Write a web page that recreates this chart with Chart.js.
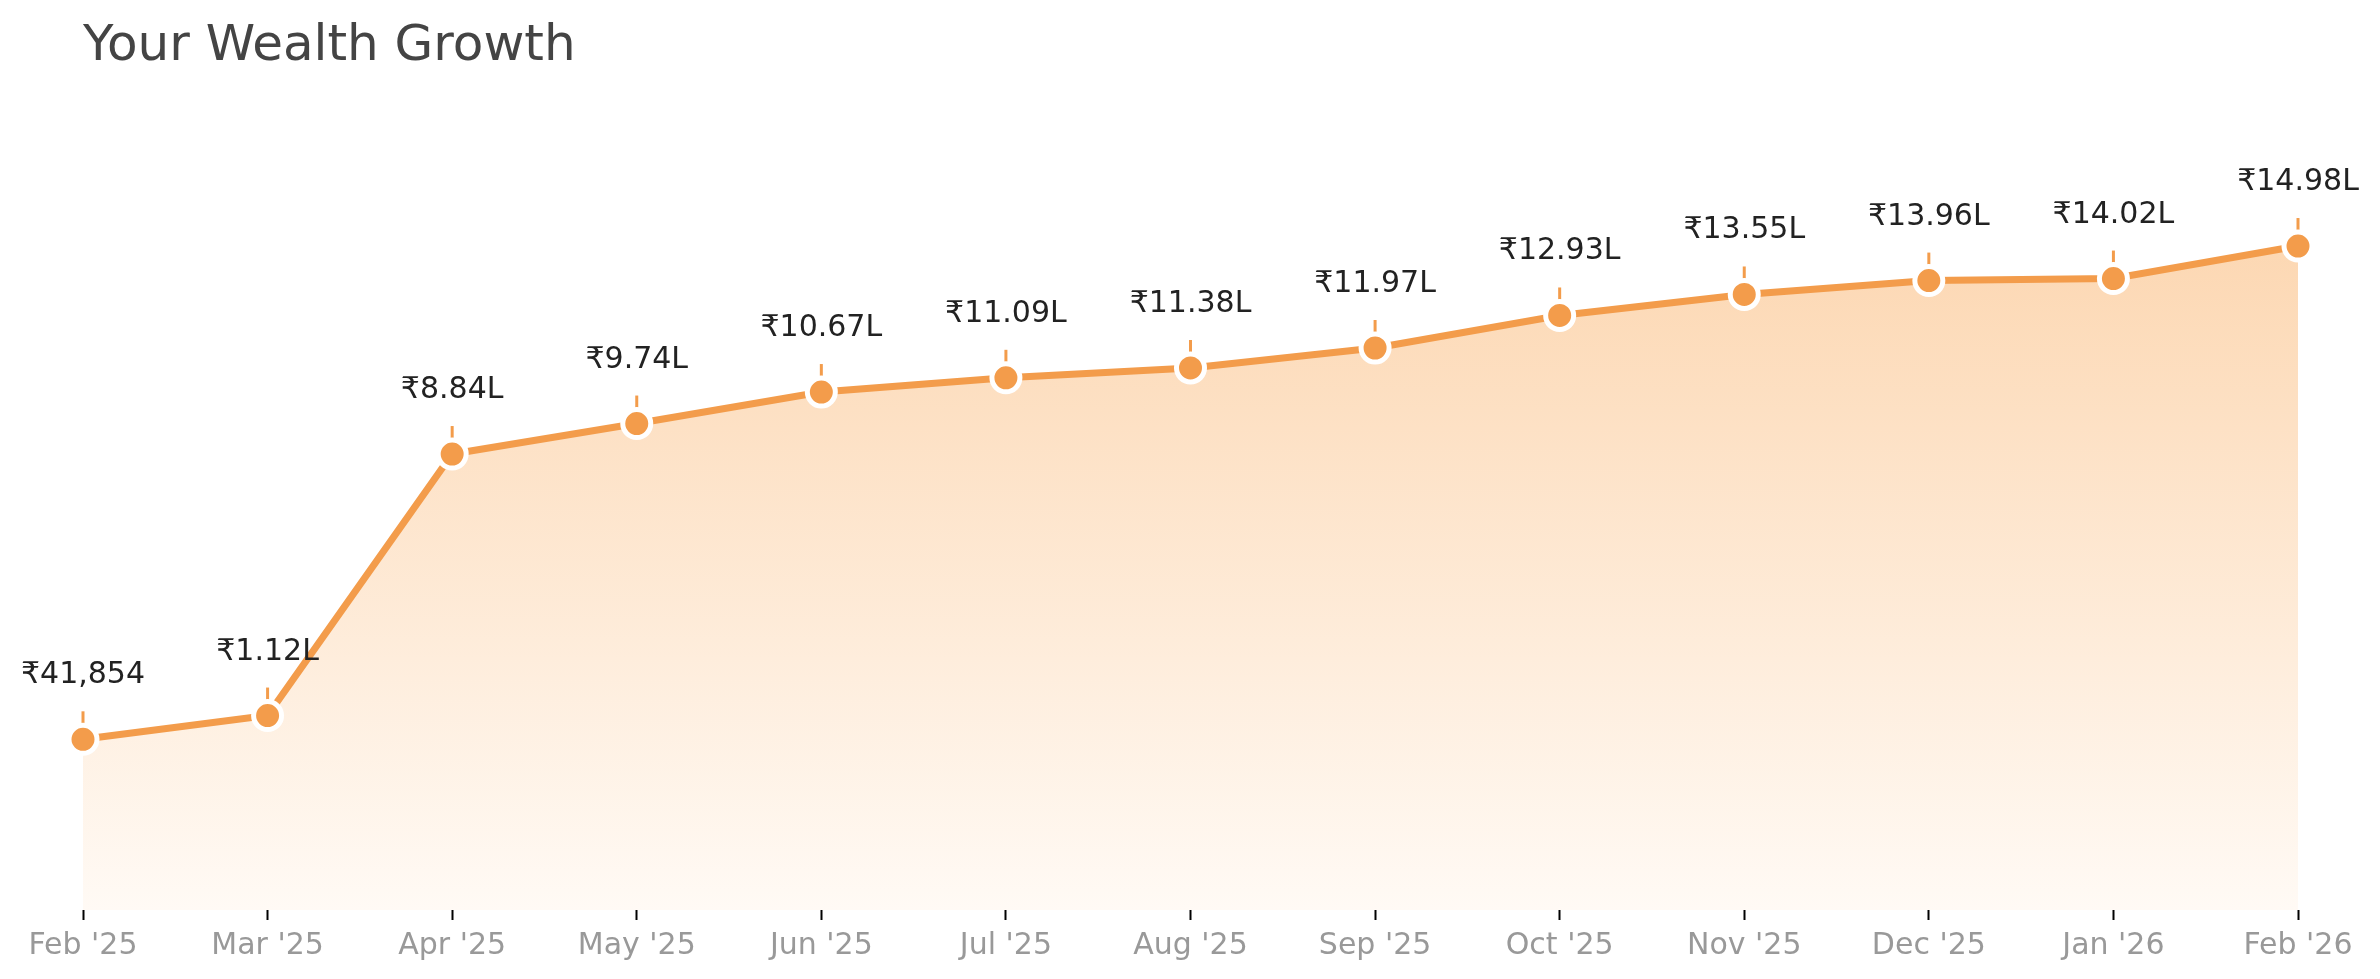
<!DOCTYPE html>
<html>
<head>
<meta charset="utf-8">
<title>Your Wealth Growth</title>
<script src="https://cdn.jsdelivr.net/npm/chart.js@4.4.1/dist/chart.umd.min.js"></script>
<style>
  html, body { margin: 0; padding: 0; background: #fff; }
  canvas { display: block; }
</style>
</head>
<body>
<canvas id="wealth" width="2380" height="979"></canvas>
<script>
const months = ["Feb '25", "Mar '25", "Apr '25", "May '25", "Jun '25", "Jul '25",
  "Aug '25", "Sep '25", "Oct '25", "Nov '25", "Dec '25", "Jan '26", "Feb '26"];
const wealth = [41854, 112000, 884000, 974000, 1067000, 1109000,
  1138000, 1197000, 1293000, 1355000, 1396000, 1402000, 1498000];

const orange = "#F39C4B";
const font = "'DejaVu Sans', sans-serif";

function rupees(v) {
  if (v < 100000) return "₹" + v.toLocaleString("en-IN");
  return "₹" + (v / 100000).toFixed(2) + "L";
}

// thin stem above each point, drawn under the line/markers
const stems = {
  id: "stems",
  beforeDatasetsDraw(chart) {
    const ctx = chart.ctx;
    const meta = chart.getDatasetMeta(0);
    ctx.save();
    ctx.strokeStyle = orange;
    ctx.lineWidth = 3;
    meta.data.forEach(pt => {
      ctx.beginPath();
      ctx.moveTo(pt.x, pt.y);
      ctx.lineTo(pt.x, pt.y - 28);
      ctx.stroke();
    });
    ctx.restore();
  }
};

const valueLabels = {
  id: "valueLabels",
  afterDatasetsDraw(chart) {
    const ctx = chart.ctx;
    const meta = chart.getDatasetMeta(0);
    ctx.save();
    ctx.font = "30px " + font;
    ctx.fillStyle = "#222";
    ctx.textAlign = "center";
    ctx.textBaseline = "alphabetic";
    meta.data.forEach((pt, i) => {
      ctx.fillText(rupees(wealth[i]), pt.x, pt.y - 56);
    });
    ctx.restore();
  }
};

const ctx = document.getElementById("wealth").getContext("2d");
new Chart(ctx, {
  type: "line",
  data: {
    labels: months,
    datasets: [{
      data: wealth,
      borderColor: orange,
      borderWidth: 7,
      tension: 0,
      fill: "start",
      backgroundColor(c) {
        const area = c.chart.chartArea;
        if (!area) return "rgba(253,218,184,1)";
        const g = c.chart.ctx.createLinearGradient(0, area.top, 0, area.bottom);
        g.addColorStop(0, "rgba(252,212,172,1)");
        g.addColorStop(1, "rgba(255,250,245,1)");
        return g;
      },
      pointRadius: 14,
      pointBorderWidth: 5,
      pointBackgroundColor: orange,
      pointBorderColor: "#fff",
      clip: false
    }]
  },
  options: {
    responsive: false,
    devicePixelRatio: 1,
    animation: false,
    layout: { padding: { left: 83, right: 82, top: 0, bottom: 7 } },
    plugins: {
      legend: { display: false },
      tooltip: { enabled: false },
      title: {
        display: true,
        text: "Your Wealth Growth",
        align: "start",
        color: "#444",
        font: { family: font, size: 50, weight: "normal" },
        padding: { top: 17, bottom: 100.6 }
      }
    },
    scales: {
      x: {
        offset: false,
        border: { display: false },
        grid: {
          drawOnChartArea: false,
          drawTicks: true,
          tickLength: 10,
          tickWidth: 2,
          tickColor: "#000"
        },
        ticks: {
          color: "#999",
          padding: 8,
          maxRotation: 0,
          autoSkip: false,
          font: { family: font, size: 30 }
        }
      },
      y: {
        display: false,
        min: -462000,
        max: 1700000
      }
    }
  },
  plugins: [stems, valueLabels]
});
</script>
</body>
</html>
